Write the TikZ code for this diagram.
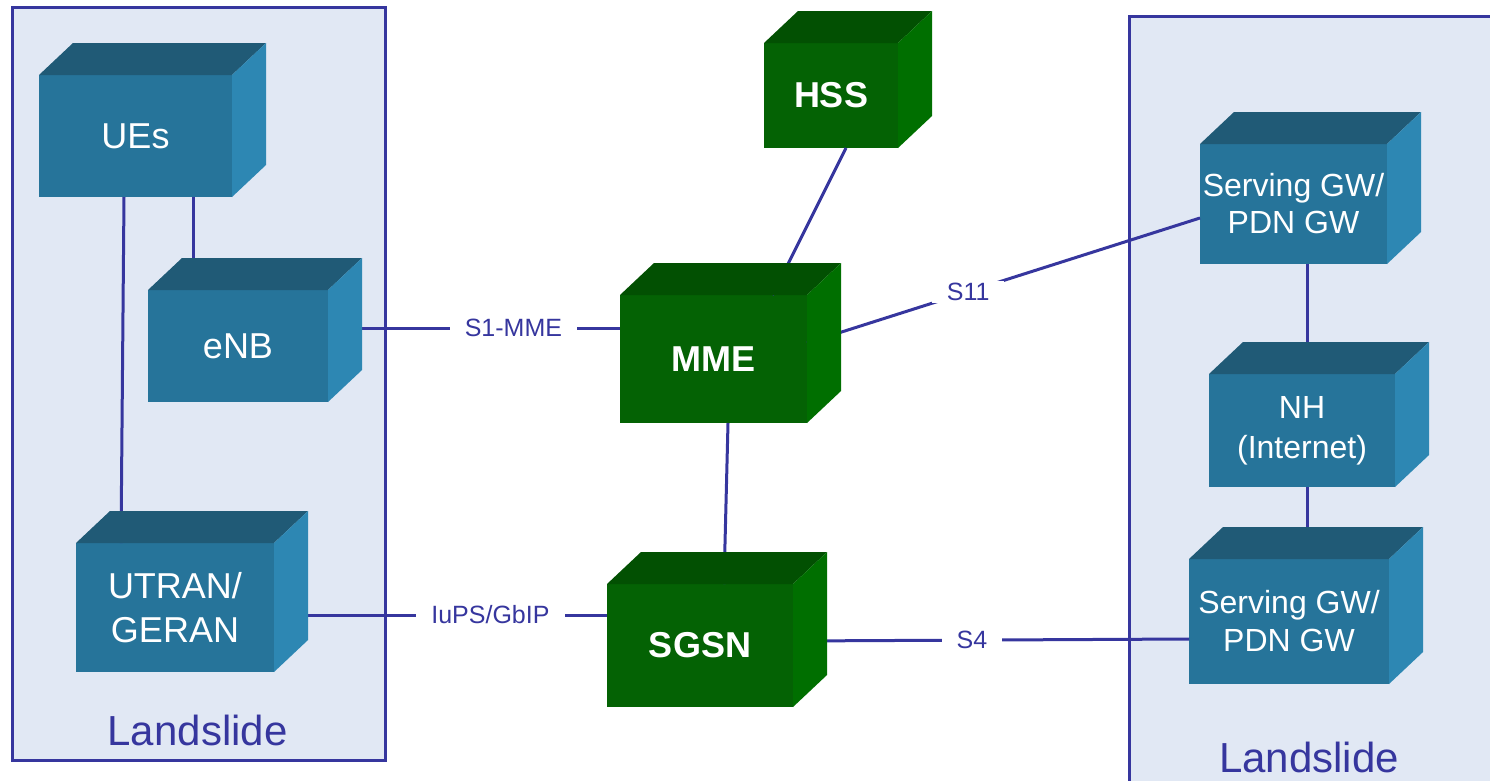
\documentclass[tikz,border=0pt]{standalone}
\usepackage{fontspec}
\setmainfont{Liberation Sans}
\usetikzlibrary{calc}
\definecolor{linkblue}{RGB}{54,54,158}
\definecolor{panelfill}{RGB}{225,232,244}
\definecolor{bfront}{RGB}{38,116,154}
\definecolor{btop}{RGB}{32,90,118}
\definecolor{bside}{RGB}{45,135,179}
\definecolor{gfront}{RGB}{4,98,4}
\definecolor{gtop}{RGB}{2,80,2}
\definecolor{gside}{RGB}{0,111,0}

\newcommand{\boxfaces}[3]{%
	\fill[#2] (#1.north west) -- ++(34,-32) -- ($(#1.north east)+(34,-32)$) -- (#1.north east) -- cycle;
	\fill[#3] (#1.north east) -- ++(34,-32) -- ($(#1.south east)+(34,-32)$) -- (#1.south east) -- cycle;
}

\begin{document}
\begin{tikzpicture}[x=1pt, y=-1pt,
	panel/.style={draw=linkblue, fill=panelfill, line width=3pt},
	panellabel/.style={anchor=base, text=linkblue, font=\fontsize{42}{50}\selectfont},
	netbox/.style={inner sep=0pt, outer sep=0pt, fill=bfront, text=white, align=center},
	corebox/.style={netbox, fill=gfront, font=\fontsize{36}{43}\selectfont\bfseries},
	link/.style={draw=linkblue, line width=3pt},
	linklabel/.style={fill=white, text=linkblue, inner xsep=15pt, inner ysep=2pt, font=\fontsize{25}{30}\selectfont}]
		\useasboundingbox (0,0) rectangle (1490,780);
		\clip (0,0) rectangle (1490,780);
		
		\draw[panel] (12,7) rectangle (385,760);
		\draw[panel] (1129,16) rectangle (1510,800);
		\node[panellabel] (landL) at (197.5,745) {Landslide};
		\node[panellabel] (landR) at (1309,772) {Landslide};
		
		\node[netbox, minimum width=193pt, minimum height=122pt, font=\fontsize{36}{44}\selectfont] (ue) at (135.5,136) {UEs};
		\node[netbox, minimum width=180pt, minimum height=112pt, font=\fontsize{36}{44}\selectfont] (enb) at (238,346) {eNB};
		\node[netbox, minimum width=198pt, minimum height=129pt, font=\fontsize{36}{44}\selectfont] (utran) at (175,607.5) {UTRAN/\\GERAN};
		
		\node[corebox, minimum width=134pt, minimum height=105pt] (hss) at (831,95.5) {HSS};
		\node[corebox, minimum width=187pt, minimum height=128pt] (mme) at (713.5,359) {MME};
		\node[corebox, minimum width=186pt, minimum height=123pt] (sgsn) at (700,645.5) {SGSN};
		
		\node[netbox, minimum width=187pt, minimum height=120pt, font=\fontsize{32}{37}\selectfont] (sgwA) at (1293.5,204) {Serving GW/\\PDN GW};
		\node[netbox, minimum width=186pt, minimum height=113pt, font=\fontsize{32}{40}\selectfont] (nh) at (1302,430.5) {NH\\(Internet)};
		\node[netbox, minimum width=200pt, minimum height=125pt, font=\fontsize{32}{38}\selectfont] (sgwB) at (1289,621.5) {Serving GW/\\PDN GW};
		
		\draw[link] ([xshift=57.5pt]ue.south) -- ([xshift=-45pt]enb.north);
		\draw[link] ([xshift=-11.5pt]ue.south) -- ([xshift=-54pt]utran.north);
		\draw[link] ([yshift=18pt]enb.east) -- node[linklabel, pos=0.635]{S1-MME} ([yshift=31pt]mme.west);
		\draw[link] ([yshift=-7.5pt]utran.east) -- node[linklabel, pos=0.65]{IuPS/GbIP} ([yshift=30.5pt]sgsn.west);
		\draw[link] ([xshift=15pt]hss.south) -- ([xshift=59pt]mme.north);
		\draw[link] ([xshift=14.5pt]mme.south) -- ([xshift=24pt]sgsn.north);
		\draw[link] ([yshift=16pt]mme.east) -- node[linklabel, pos=0.41]{S11} ([yshift=-14pt]sgwA.west);
		\draw[link] ([yshift=4.5pt]sgsn.east) -- node[linklabel, pos=0.452]{S4} ([yshift=-17.5pt]sgwB.west);
		\draw[link] ([xshift=13.5pt]sgwA.south) -- ([xshift=5pt]nh.north);
		\draw[link] ([xshift=5pt]nh.south) -- ([xshift=18pt]sgwB.north);
		
		\foreach \n/\t/\s in {ue/btop/bside, enb/btop/bside, utran/btop/bside, hss/gtop/gside, mme/gtop/gside, sgsn/gtop/gside, sgwA/btop/bside, nh/btop/bside, sgwB/btop/bside}
			{\boxfaces{\n}{\t}{\s}}
	\end{tikzpicture}
\end{document}
